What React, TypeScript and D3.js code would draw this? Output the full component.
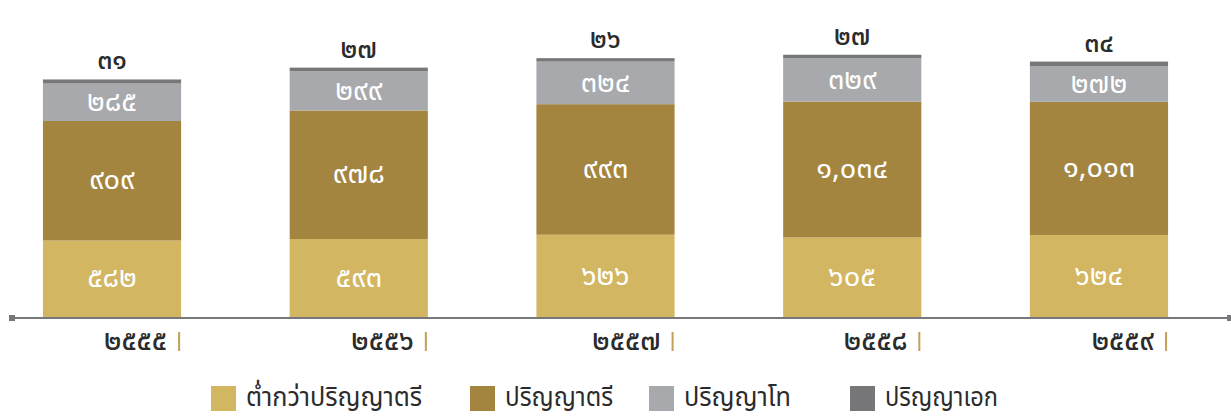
import * as d3 from 'd3';
import React from 'react';

const width = 1231;
const height = 419;
const axisY = 317;

const years = [2555, 2556, 2557, 2558, 2559];
const belowBachelor = [582, 593, 626, 605, 624];
const bachelor = [909, 978, 993, 1034, 1013];
const master = [285, 299, 324, 329, 272];
const doctorate = [31, 27, 26, 27, 34];

const seriesNames = ['ต่ำกว่าปริญญาตรี', 'ปริญญาตรี', 'ปริญญาโท', 'ปริญญาเอก'];
const seriesColors = ['#d2b661', '#a38540', '#a8a9ac', '#77777a'];
// legend layout (px)
const legendX = [211, 470, 649, 850];
const legendTextW = [176, 108, 107, 113];

const thaiDigits = '๐๑๒๓๔๕๖๗๘๙';
const toThai = (n: number, comma = true) =>
  (comma ? d3.format(',')(n) : String(n)).replace(/[0-9]/g, (c) => thaiDigits[+c]);

const fontFamily = '"Noto Sans Thai", "Noto Sans", "DejaVu Sans", sans-serif';

export default function App() {
  const keys = ['below', 'bachelor', 'master', 'doctorate'];
  const rows = years.map((y, i) => ({
    year: y,
    below: belowBachelor[i],
    bachelor: bachelor[i],
    master: master[i],
    doctorate: doctorate[i],
  }));
  const stacked = d3.stack<any>().keys(keys)(rows);

  const x = d3
    .scaleBand<number>()
    .domain(years)
    .range([0, 1211])
    .paddingInner(0.44)
    .paddingOuter(0.174);
  const y = d3.scaleLinear().domain([0, 2130]).range([axisY, 37]);
  const bw = x.bandwidth();

  return (
    <svg
      width={width}
      height={height}
      style={{ position: 'absolute', left: 0, top: 0, background: '#fff' }}
      fontFamily={fontFamily}
    >
      {stacked.map((s, si) => (
        <g key={s.key} fill={seriesColors[si]}>
          {s.map((d, i) => (
            <rect
              key={i}
              x={x(years[i])}
              y={y(d[1])}
              width={bw}
              height={y(d[0]) - y(d[1])}
            />
          ))}
        </g>
      ))}

      {/* values inside segments */}
      {stacked.slice(0, 3).map((s, si) => (
        <g key={'l' + s.key} fill="#fff" fontSize={29} textAnchor="middle">
          {s.map((d, i) => (
            <text
              key={i}
              x={(x(years[i]) as number) + bw / 2}
              y={(y(d[0]) + y(d[1])) / 2}
              dy="0.3em"
            >
              {toThai(d[1] - d[0])}
            </text>
          ))}
        </g>
      ))}

      {/* doctorate values above bars */}
      {stacked[3].map((d, i) => (
        <text
          key={'t' + i}
          x={(x(years[i]) as number) + bw / 2}
          y={y(d[1]) - 10}
          fill="#2b2b2b"
          fontSize={27}
          fontWeight={500}
          textAnchor="middle"
        >
          {toThai(d[1] - d[0])}
        </text>
      ))}

      {/* axis */}
      <line x1={12} x2={1231} y1={axisY + 1} y2={axisY + 1} stroke="#77787b" strokeWidth={2} />
      <rect x={9} y={axisY - 2} width={6} height={6} fill="#77787b" />
      <rect x={1227} y={axisY - 2} width={6} height={6} fill="#77787b" />

      {years.map((yr) => {
        const right = (x(yr) as number) + bw;
        return (
          <g key={'x' + yr}>
            <text x={right - 14} y={350} fill="#2b2b2b" fontSize={28} fontWeight={500} textAnchor="end">
              {toThai(yr, false)}
            </text>
            <rect x={right - 3} y={332} width={2} height={19} fill="#c2a05a" />
          </g>
        );
      })}

      {/* legend */}
      {seriesNames.map((n, i) => (
        <g key={n}>
          <rect x={legendX[i]} y={386} width={25} height={25} fill={seriesColors[i]} />
          <text
            x={legendX[i] + 35}
            y={406}
            fill="#2b2b2b"
            fontSize={26}
            textLength={legendTextW[i]}
            lengthAdjust="spacingAndGlyphs"
          >
            {n}
          </text>
        </g>
      ))}
    </svg>
  );
}
